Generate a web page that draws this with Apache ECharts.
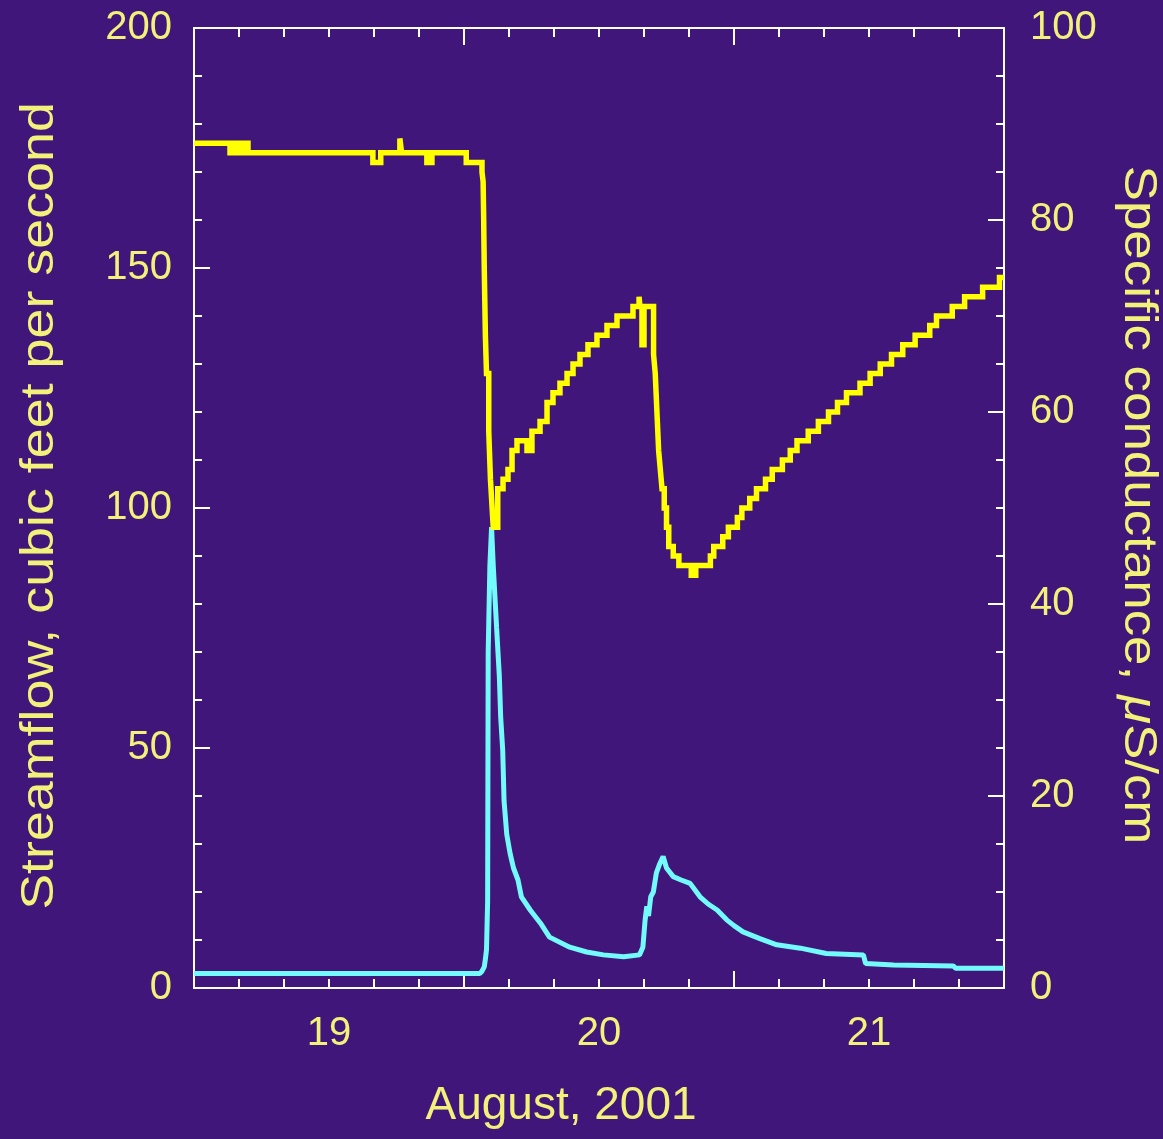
<!DOCTYPE html>
<html>
<head>
<meta charset="utf-8">
<script src="https://cdn.jsdelivr.net/npm/echarts@6/dist/echarts.min.js"></script>
<style>
html,body{margin:0;padding:0;background:#41167a;}
#chart{width:1163px;height:1139px;}
</style>
</head>
<body>
<div id="chart"></div>
<script>
// Hours since 19 August 2001 00:00
const flowHours = [0, 25.4, 25.6, 25.8, 25.9, 26.0, 26.1, 26.15, 26.3, 26.45, 26.6, 26.9, 27.14, 27.26, 27.44, 27.56, 27.8, 28.1, 28.4, 28.8, 29.1, 29.9, 30.8, 31.6, 33.4, 34.9, 36.4, 38.2, 39.6, 39.9, 40.1, 40.25, 40.4, 40.6, 40.83, 41.1, 41.42, 41.7, 42.0, 42.6, 43.3, 44.1, 44.98, 45.7, 46.5, 47.35, 48.0, 48.8, 50.3, 51.8, 53.9, 56.2, 59.5, 59.7, 62.2, 67.5, 67.7, 72];
// Streamflow, cubic feet per second
const flowValues = [3.0, 3.0, 3.5, 4.4, 6, 8, 18, 70, 88, 96, 88, 75, 65, 56.5, 49.6, 39, 32, 28, 25, 22.5, 19, 16.2, 13.5, 10.6, 8.5, 7.5, 6.9, 6.5, 6.9, 8.5, 14.2, 17, 15, 19, 20, 24, 26, 27.4, 25, 23.2, 22.5, 21.8, 19.0, 17.5, 16.25, 14.2, 13, 11.7, 10.3, 9.0, 8.3, 7.2, 6.9, 5.1, 4.8, 4.6, 4.1, 4.1];

// Specific conductance (level starts), hours since 19 Aug 00:00
const condHours = [0, 3.2, 3.4, 3.6, 3.8, 4.0, 4.2, 4.4, 4.6, 4.8, 15.9, 16.6, 18.3, 18.45, 20.7, 21.15, 24.2, 25.6, 25.7, 25.75, 25.8, 25.9, 26.0, 26.2, 26.35, 26.5, 26.6, 27.0, 27.47, 27.91, 28.27, 28.71, 29.6, 30.04, 30.76, 31.38, 31.91, 32.53, 33.16, 33.69, 34.31, 35.02, 35.82, 36.71, 37.6, 39.02, 39.56, 39.64, 39.82, 40.0, 40.85, 41.0, 41.15, 41.3, 41.45, 41.6, 41.8, 42.0, 42.2, 42.6, 43.1, 44.2, 44.6, 45.9, 46.2, 47.0, 47.5, 48.3, 48.7, 49.4, 50.0, 50.8, 51.4, 52.3, 53.0, 53.6, 54.6, 55.5, 56.4, 57.2, 58.0, 59.2, 60.1, 61.0, 62.0, 63.0, 64.1, 65.4, 66.0, 67.4, 68.5, 70.1, 71.6, 72];
// Specific conductance, microsiemens per centimeter
const condValues = [88, 87, 88, 87, 88, 87, 88, 87, 88, 87, 86, 87, 88.5, 87, 86, 87, 86, 85, 84, 80, 75, 68, 64, 58, 53, 50, 48, 52, 53, 54, 56, 57, 56, 58, 59, 61, 62, 63, 64, 65, 66, 67, 68, 69, 70, 71, 72, 71, 67, 71, 66, 64, 60, 56, 54, 52, 50, 48, 46, 45, 44, 43, 44, 45, 46, 47, 48, 49, 50, 51, 52, 53, 54, 55, 56, 57, 58, 59, 60, 61, 62, 63, 64, 65, 66, 67, 68, 69, 70, 71, 72, 73, 74, 74];

const dayLabels = ['19', '20', '21'];
const dayLabelHours = [12, 36, 60];
const xTitle = 'August, 2001';
const yLeftTitle = 'Streamflow, cubic feet per second';
const yRightTitleA = 'Specific conductance, ';
const yRightTitleMu = '\u03bc';
const yRightTitleB = 'S/cm';

const TXT = '#f2f27a';
const FONT = '"Liberation Sans", Arial, Helvetica, sans-serif';
const WHITE = '#ffffff';

const flowData = flowHours.map((h, i) => [h, flowValues[i]]);
const condData = condHours.map((h, i) => [h, condValues[i]]);

function frameX(pos) {
  return {
    type: 'value', position: pos, min: 0, max: 72, interval: 24,
    axisLine: { show: true, onZero: false, lineStyle: { color: WHITE, width: 2 } },
    axisTick: { show: true, inside: true, length: 17, lineStyle: { color: WHITE, width: 2 } },
    minorTick: { show: true, splitNumber: 6, length: 9, lineStyle: { color: WHITE, width: 2 } },
    axisLabel: { show: false }, splitLine: { show: false }, minorSplitLine: { show: false }
  };
}

const chart = echarts.init(document.getElementById('chart'), null, { renderer: 'canvas' });
chart.setOption({
  backgroundColor: '#41167a',
  animation: false,
  grid: { left: 194, right: 159, top: 28, bottom: 151, containLabel: false },
  xAxis: [
    frameX('bottom'),
    frameX('top'),
    {
      type: 'value', position: 'bottom', min: 0, max: 72, interval: 12,
      axisLine: { show: false }, axisTick: { show: false }, splitLine: { show: false },
      axisLabel: {
        show: true, margin: 26, color: TXT, fontSize: 40, fontFamily: FONT,
        formatter: function (v) { const k = dayLabelHours.indexOf(v); return k >= 0 ? dayLabels[k] : ''; }
      }
    }
  ],
  yAxis: [
    {
      type: 'value', position: 'left', min: 0, max: 200, interval: 50,
      axisLine: { show: true, onZero: false, lineStyle: { color: WHITE, width: 2 } },
      axisTick: { show: true, inside: true, length: 16, lineStyle: { color: WHITE, width: 2 } },
      minorTick: { show: true, splitNumber: 5, length: 8, lineStyle: { color: WHITE, width: 2 } },
      splitLine: { show: false }, minorSplitLine: { show: false },
      axisLabel: { margin: 22, color: TXT, fontSize: 40, fontFamily: FONT }
    },
    {
      type: 'value', position: 'right', min: 0, max: 100, interval: 20,
      axisLine: { show: true, onZero: false, lineStyle: { color: WHITE, width: 2 } },
      axisTick: { show: true, inside: true, length: 16, lineStyle: { color: WHITE, width: 2 } },
      minorTick: { show: true, splitNumber: 4, length: 8, lineStyle: { color: WHITE, width: 2 } },
      splitLine: { show: false }, minorSplitLine: { show: false },
      axisLabel: { margin: 26, color: TXT, fontSize: 40, fontFamily: FONT }
    }
  ],
  graphic: [
    {
      type: 'text', x: 561, y: 1106,
      style: { text: xTitle, fill: TXT, font: '46px ' + FONT, align: 'center', verticalAlign: 'middle', textAlign: 'center', textVerticalAlign: 'middle' }
    },
    {
      type: 'text', x: 40, y: 506, rotation: Math.PI / 2, scaleX: 1.17,
      style: { text: yLeftTitle, fill: TXT, font: '46px ' + FONT, align: 'center', verticalAlign: 'middle', textAlign: 'center', textVerticalAlign: 'middle' }
    },
    {
      type: 'text', x: 1138, y: 505, rotation: -Math.PI / 2, scaleX: 1.15,
      style: {
        text: '{n|' + yRightTitleA + '}{i|' + yRightTitleMu + '}{n|' + yRightTitleB + '}',
        fill: TXT, font: '46px ' + FONT, align: 'center', verticalAlign: 'middle', textAlign: 'center', textVerticalAlign: 'middle',
        rich: {
          n: { fill: TXT, fontSize: 46, fontFamily: FONT },
          i: { fill: TXT, fontSize: 46, fontFamily: FONT, fontStyle: 'italic' }
        }
      }
    }
  ],
  series: [
    {
      name: 'Streamflow', type: 'line', xAxisIndex: 0, yAxisIndex: 0,
      data: flowData, showSymbol: false, clip: true,
      lineStyle: { color: '#72fafc', width: 5 }
    },
    {
      name: 'Specific conductance', type: 'line', xAxisIndex: 0, yAxisIndex: 1,
      data: condData, step: 'end', showSymbol: false, clip: true,
      lineStyle: { color: '#ffff00', width: 5.5, join: 'miter' }
    }
  ]
});
</script>
</body>
</html>
